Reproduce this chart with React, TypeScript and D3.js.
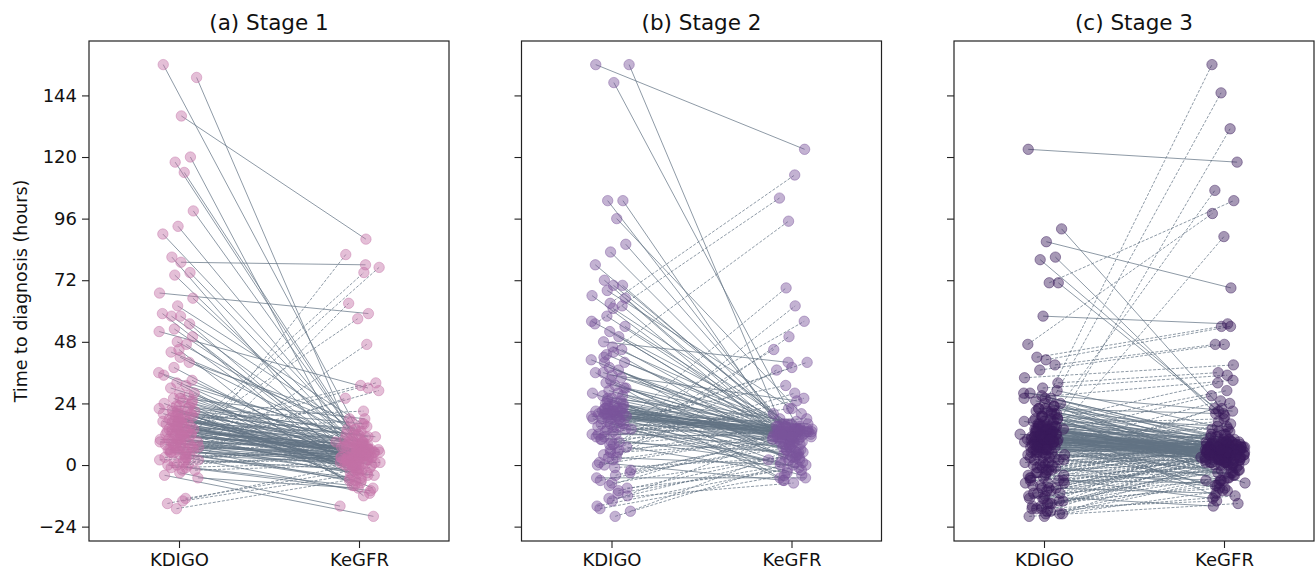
import React, { useEffect, useRef } from "react";
import * as d3 from "d3";

// paired time to diagnosis (hours), KDIGO vs KeGFR, one entry per patient
const categories = ["KDIGO", "KeGFR"];
const stageTitles = ["(a) Stage 1", "(b) Stage 2", "(c) Stage 3"];
const stageColors = ["#c471a6", "#7a559c", "#3a1a5c"];
const yTicks = [-24, 0, 24, 48, 72, 96, 120, 144];

const stage1Kdigo = [
  156, 151, 136, 120, 118, 114, 99, 93, 90, 81, 79, 75, 74, 67, 65, 62, 59, 58, 58, 55,
  53, 52, 50, 48, 47, 44, 42, 40, 38, 36, 33, 32, 31, 30, 28, 27, 26, 25, 24, 23,
  2, 5, 10, 0, 8, -2, 12, 14, 4, 6, 18,
  22, 21, 20, 20, 19, 19, 18, 18, 17, 17, 16, 16, 15, 15, 14, 14, 13, 13, 12, 12,
  11, 11, 10, 10, 9, 9, 8, 8, 7, 7, 6, 6, 5, 5, 4, 3, 2, 1, 0, 0, -1, -2, -3, -4, -5,
  -14, -15, -17, -13,
  21, 23, 24, 9, 11, 13, 7, 3, 28, 45, 35,
  19, 16, 12, 8, 10, 14, 17, 20, 22,
  18, 15, 12, 9, 6, 20, 17, 14, 11, 8, 5, 2, 19, 16, 13, 10, 7, 4, 1, 22,
  25, 21, 3, -1, 26, 23, 17, 12, 7, 15,
];
const stage1Kegfr = [
  3, 6, 88, 2, 8, 4, 12, 6, 14, -2, 78, 10, 5, 59, 9, 16, 3, 7, 11, 1,
  4, 30, -4, 9, 2, 14, 6, 18, 0, 8, 3, -6, 12, 5, 1, 9, -3, 7, 4, 13,
  82, 77, 75, 63, 57, 47, 32, 31, 26, 29, 21,
  3, 8, 2, 11, 5, 0, 6, 9, 3, -2, 7, 1, 4, 10, 2, 6, 0, 8, 3, 5,
  -1, 7, 2, 4, 6, 1, 3, -4, 5, 2, 0, 8, 3, -6, 1, 5, -2, 2, -8, 4, -10, 0, -16, -20, -9,
  -3, 0, -5, -1,
  14, 16, -9, 12, 15, 17, -7, -11, -8, -12, 2,
  3, 5, 1, 9, 6, 4, 8, 1, 6,
  4, 2, 6, 3, 1, 9, 0, 5, 7, -3, 2, 6, -1, 3, 8, 0, 4, -5, 3, 11,
  6, -2, 7, 1, 18, -6, 12, -4, 10, 5,
];

const stage2Kdigo = [
  156, 156, 149, 103, 103, 96, 86, 83, 78, 72, 70, 70, 68, 66, 65, 63, 55, 42, 61, 62,
  58, 56, 54, 52, 50, 48, 46, 45, 43, 41, 40, 38, 37, 36, 35, 34, 32, 31, 30, 29,
  28, 27, 26, 25, 24, 24, 23, 22, 22, 21, 21, 21, 20, 20, 20, 19, 19, 18, 18, 17,
  22, 21, 20, 23, 19,
  10, 5, 15, 0, 8, 12, 14, 3, 16, 6, 9, 11, 13, 15, 14, 12, 10, 8, 6, 4,
  2, 0, -2, -4, -6, -8, -10, -12, -14, -16, -18, -20, -17, -13, -11, -9, -7, -5, -3, -1,
  1, 3, 5, 7, 9, 11, 13, 15, 16, 17, 18, 19, 20, 21, 22, 23, 24, 26, 28, 30,
  33, 36, 40, 44, 27, 25, 12, 14, 16, 18, 20, 21, 22, 20, 19,
];
const stage2Kegfr = [
  123, 8, 14, 12, 10, 20, 15, 11, 18, 9, 13, 16, 22, 6, 12, 113, 104, 95, 14, 10,
  11, 13, 15, 9, 12, 40, 14, 11, 13, 8, 16, 12, 10, 14, 25, 13, 11, 15, 12, 9,
  14, 13, 17, 12, 10, 14, 13, 12, 15, 11, 13, 14, 12, 10, 16, 13, 11, 12, 14, 9,
  13, 12, 14, 11, 12,
  69, 62, 56, 50, 45, 40, 38, 37, 31, 28, 26, 22, 20, 18, 16, 15, 13, 14, 12, 16,
  11, 13, 10, 12, 8, 14, 5, 3, 10, 0, 6, 2, -4, -7, 1, -2, 4, -5, 7, 3,
  -6, 0, 9, -3, 5, 1, 7, -1, 4, 2, -4, 6, 3, 0, 8, 5, -6, 3, -2, 6,
  1, -5, 2, 4, 7, 8, 11, 12, 13, 13, 13, 13, 12, 11, 14,
];

const stage3Kdigo = [
  123, 92, 87, 81, 80, 71, 71, 58, 47, 42, 41, 39, 37, 34, 32, 30, 10, 14, 8, 20,
  5, 26, 18, 15, 12, 6, 0, 3, 22, 28,
  29, 27, 26, 25, 24, 23, 22, 21, 20, 19, 18, 18, 17, 17, 16, 16, 15, 15, 14, 14,
  13, 13, 13, 12, 12, 12, 11, 11, 11, 10, 10, 10, 10, 9, 9, 9, 8, 8, 8, 7,
  7, 7, 6, 6, 5, 5, 4, 4, 3, 2, 1, 0, -1, -2, -3, -4, -5, -6, -7, -8,
  -9, -10, -11, -12, -13, -14, -15, -16, -17, -18, -19, -20, -20, -19, -18, -17, -16, -15, -14, -13,
  -12, -11, -10, -9, -8, -7, -6, -5, -4, -3, -2, -1, 0, 1, 2, 3, 4, 5, 6, 7,
  8, 9, 10, 11, 12, 13, 14, 15, 16, 17, 18, 19, 20, 21, 22, 23, 11, 10, 9, 12,
  13, 10, 11, 9, 8, 14, 12, 10, 11, 13, 12, 9, 15, 7, 8, 10,
  12, 11, 10, 13, 9, 14, 11, 12, 10, 8, 15, 16, 7, 6, 5, 4, 3, 2, 1, 0,
  -1, -3, -5, -7, -9, -11, -13, -15, -17, -19, -6, -4, -2, 17, 19, 21, 24, 26, 28, 14,
];
const stage3Kegfr = [
  118, 22, 69, 20, 19, 103, 21, 55, 98, 54, 54, 47, 47, 39, 36, 35, 156, 145, 131, 107,
  89, 33, 32, 29, 27, 25, 24, 22, 20, 21,
  15, 8, 12, 5, 10, 3, 7, 9, 4, 6, 11, 2, 8, 5, 3, 9, 6, 1, 7, 4,
  10, 5, 2, 6, 8, 3, 5, 7, 0, 6, 4, 8, 2, 5, 7, 3, 6, 4, 9, 5,
  2, 7, 4, 6, 3, 8, 5, 1, 6, 4, 7, 3, 5, 8, 2, 6, 0, 4, -3, 7,
  1, 5, -6, 3, -2, 9, 0, -8, 4, -12, 2, -5, -15, -10, 6, -14, 12, -4, -9, 1,
  -16, 8, -1, -11, 3, 10, -7, 14, -13, 4, -3, 11, -9, 2, 13, -5, 9, -2, 16, -8,
  12, -4, 17, -10, 14, -6, 3, -12, 18, 0, -3, 15, 1, -7, 13, 0, 6, 5, 6, 5,
  6, 7, 4, 4, 5, 5, 7, 3, 8, 4, 4, 8, 5, 6, 7, 9,
  6, 5, 6, 7, 5, 6, 3, 2, 1, 3, 8, 6, 4, 5, 6, 3, 4, 7, 5, 6,
  2, 9, 3, 1, 6, 2, 5, -1, 0, -6, -2, -6, 1, 11, 9, 4, 6, 2, 9, 10,
];

const stages = [
  { kdigo: stage1Kdigo, kegfr: stage1Kegfr },
  { kdigo: stage2Kdigo, kegfr: stage2Kegfr },
  { kdigo: stage3Kdigo, kegfr: stage3Kegfr },
];

const W = 1316;
const H = 570;
const panelLeft = [89, 521.5, 954];
const panelWidth = 360;
const top = 41;
const bottom = 541;
const font = "DejaVu Sans, sans-serif";

// fixed horizontal spread so markers don't stack exactly (layout only)
const frac = (v: number) => v - Math.floor(v);
const jitter = (i: number, seed: number) => {
  const a = frac(i * 0.6180339887 + seed);
  const b = frac(i * 0.7548776662 + seed * 1.7);
  return (a + b - 1) * 0.135;
};

const fmt = (d: number) => (d < 0 ? "\u2212" + Math.abs(d) : String(d));

export default function App() {
  const ref = useRef<SVGSVGElement>(null);

  useEffect(() => {
    const svg = d3.select(ref.current);
    svg.selectAll("*").remove();

    const y = d3.scaleLinear().domain([-29.6, 165.2]).range([bottom, top]);

    stages.forEach((s, p) => {
      const x = d3
        .scaleLinear()
        .domain([-0.5, 1.5])
        .range([panelLeft[p], panelLeft[p] + panelWidth]);
      const color = stageColors[p];
      const g = svg.append("g");

      const pairs = s.kdigo.map((k, i) => ({
        k,
        e: s.kegfr[i],
        x0: x(0 + jitter(i, 0.13)),
        x1: x(1 + jitter(i, 0.57)),
      }));

      g.append("g")
        .selectAll("line")
        .data(pairs)
        .join("line")
        .attr("x1", (d) => d.x0)
        .attr("y1", (d) => y(d.k))
        .attr("x2", (d) => d.x1)
        .attr("y2", (d) => y(d.e))
        .attr("stroke", "#627283")
        .attr("stroke-width", 0.8)
        .attr("stroke-opacity", 0.9)
        .attr("stroke-dasharray", (d) => (d.e > d.k ? "3,1.6" : null));

      const pts = pairs.flatMap((d) => [
        { cx: d.x0, v: d.k },
        { cx: d.x1, v: d.e },
      ]);
      g.append("g")
        .selectAll("circle")
        .data(pts)
        .join("circle")
        .attr("cx", (d) => d.cx)
        .attr("cy", (d) => y(d.v))
        .attr("r", 5.2)
        .attr("fill", color)
        .attr("fill-opacity", 0.45)
        .attr("stroke", color)
        .attr("stroke-opacity", 0.45)
        .attr("stroke-width", 1);

      // y axis (labels only on first panel)
      const ya = g
        .append("g")
        .attr("transform", `translate(${panelLeft[p]},0)`)
        .call(
          d3
            .axisLeft(y)
            .tickValues(yTicks)
            .tickSize(7)
            .tickPadding(5)
            .tickFormat((d) => (p === 0 ? fmt(d as number) : ""))
        );
      ya.select(".domain").remove();
      ya.selectAll("line").attr("stroke", "#222").attr("stroke-width", 1.1);
      ya.selectAll("text")
        .attr("font-size", 18)
        .attr("font-family", font)
        .attr("fill", "#111");

      const xa = g
        .append("g")
        .attr("transform", `translate(0,${bottom})`)
        .call(
          d3
            .axisBottom(x)
            .tickValues([0, 1])
            .tickSize(7)
            .tickPadding(5)
            .tickFormat((d) => categories[d as number])
        );
      xa.select(".domain").remove();
      xa.selectAll("line").attr("stroke", "#222").attr("stroke-width", 1.1);
      xa.selectAll("text")
        .attr("font-size", 18)
        .attr("font-family", font)
        .attr("fill", "#111");

      g.append("rect")
        .attr("x", panelLeft[p])
        .attr("y", top)
        .attr("width", panelWidth)
        .attr("height", bottom - top)
        .attr("fill", "none")
        .attr("stroke", "#222")
        .attr("stroke-width", 1.2);

      g.append("text")
        .attr("x", panelLeft[p] + panelWidth / 2)
        .attr("y", 30)
        .attr("text-anchor", "middle")
        .attr("font-family", font)
        .attr("font-size", 21.5)
        .attr("fill", "#111")
        .text(stageTitles[p]);
    });

    svg
      .append("text")
      .attr("transform", `translate(27,${(top + bottom) / 2}) rotate(-90)`)
      .attr("text-anchor", "middle")
      .attr("font-family", font)
      .attr("font-size", 17.5)
      .attr("fill", "#111")
      .text("Time to diagnosis (hours)");
  }, []);

  return (
    <svg
      ref={ref}
      width={W}
      height={H}
      style={{ position: "absolute", left: 0, top: 0, background: "#fff" }}
    />
  );
}
